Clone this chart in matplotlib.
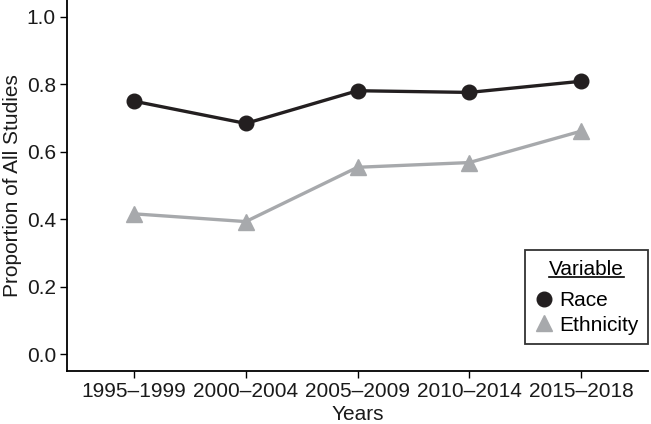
import matplotlib
matplotlib.use("Agg")
import matplotlib.pyplot as plt
from matplotlib.lines import Line2D

plt.rcParams['font.family'] = ['Liberation Sans', 'DejaVu Sans']

periods = ["1995–1999", "2000–2004", "2005–2009", "2010–2014", "2015–2018"]
race = [0.750, 0.684, 0.781, 0.776, 0.809]
ethnicity = [0.416, 0.393, 0.554, 0.568, 0.661]

black = "#231f20"
grey = "#a7a9ac"

fig = plt.figure(figsize=(6.51, 4.24), dpi=100)
ax = fig.add_axes([67 / 651, 53 / 424, 581 / 651, 371 / 424])

x = list(range(1, len(periods) + 1))
ax.plot(x, race, color=black, lw=2.4, marker="o", ms=10.5, label="Race", zorder=3)
ax.plot(x, ethnicity, color=grey, lw=2.4, marker="^", ms=12, label="Ethnicity", zorder=3)

ax.set_xlim(0.4, 5.6)
ax.set_ylim(-0.05, 1.05)
ax.set_xticks(x)
ax.set_xticklabels(periods)
ax.set_yticks([0.0, 0.2, 0.4, 0.6, 0.8, 1.0])
ax.set_yticklabels(["0.0", "0.2", "0.4", "0.6", "0.8", "1.0"])
ax.tick_params(labelsize=15, length=5, width=1, color="black", labelcolor="#1a1a1a", pad=3)
for s in ["top", "right"]:
    ax.spines[s].set_visible(False)
for s in ["left", "bottom"]:
    ax.spines[s].set_linewidth(1.3)

ax.set_xlabel("Years", fontsize=15, labelpad=2.5, color="#1a1a1a")
ax.set_ylabel("Proportion of All Studies", fontsize=15, labelpad=3, color="#1a1a1a")

leg = ax.legend(title="Variable", loc="lower right", bbox_to_anchor=(1.0, 0.073),
                borderaxespad=0, fontsize=15, title_fontsize=15, frameon=True,
                fancybox=False, edgecolor="black", handlelength=0.9,
                handletextpad=0.3, borderpad=0.45, labelspacing=0.25)
leg.get_frame().set_linewidth(1.3)
leg._legend_box.sep = 9
for h in leg.legend_handles:
    h.set_linestyle("None")

# underline the legend title
fig.canvas.draw()
r = fig.canvas.get_renderer()
bb = leg.get_title().get_window_extent(r)
inv = fig.transFigure.inverted()
(x0, y0), (x1, _) = inv.transform([(bb.x0, bb.y0 + 2), (bb.x1, bb.y0 + 2)])
fig.add_artist(Line2D([x0, x1], [y0, y0], color="black", lw=1.2, transform=fig.transFigure))

fig.savefig("out.png", dpi=100)
